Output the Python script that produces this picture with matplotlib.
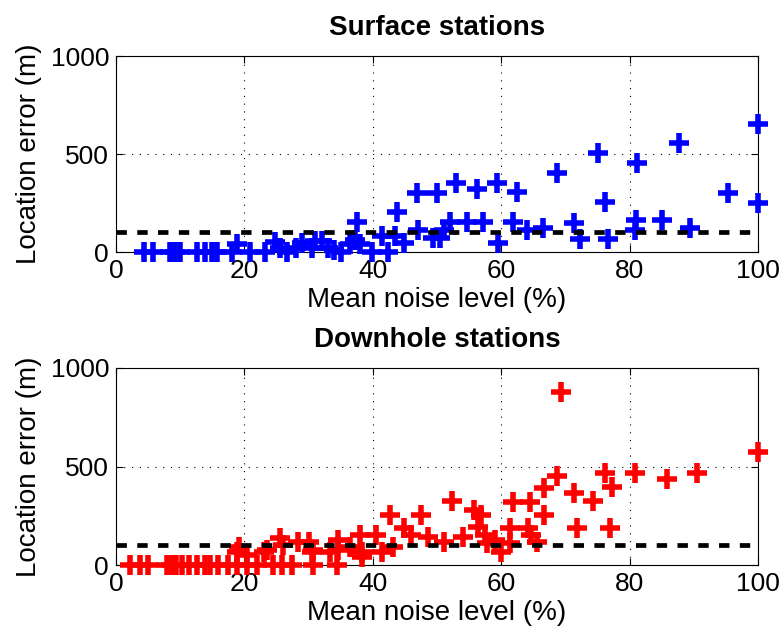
import numpy as np
import matplotlib.pyplot as plt

plt.rcParams['font.family'] = ['Liberation Sans', 'DejaVu Sans']

# -----------------------------
#  Data
# -----------------------------
surf_noise = [4.3, 5.8, 8.4, 9.2, 10, 12.6, 13.9, 14.9, 15.7, 18, 18.8, 20.9, 23.2,
              24.8, 25.5, 26.6, 28.1, 29, 30.5, 31, 32, 33, 34, 35, 36.5, 37.5, 37.2,
              38, 39.8, 41.4, 42.4, 43.5, 43.7, 44.8, 47, 46.8, 49.4, 50, 50.5, 51,
              52, 53, 54.6, 56.2, 57.2, 59.3, 59.5, 61.9, 62.4, 64, 66.5, 68.7, 71.4,
              72.3, 75, 76.2, 76.6, 80.9, 81, 81.2, 85.1, 87.6, 89.4, 95.3, 100, 100]
surf_err = [0, 0, 0, 0, 0, 0, 0, 0, 0, 0, 40, 0, 0,
            50, 20, 0, 20, 45, 20, 55, 55, 20, 10, 0, 40, 155, 60,
            40, 0, 80, 0, 80, 206, 44, 112, 299, 70, 299, 70, 112,
            155, 350, 155, 320, 155, 350, 44, 155, 308, 112, 125, 405, 146,
            65, 503, 257, 65, 112, 163, 452, 163, 555, 121, 299, 653, 252]

down_noise = [2.2, 3.7, 5, 7.9, 8.7, 9.4, 10.2, 11.3, 12.6, 13.9, 14.6, 15.9, 17.5,
              18.8, 20.4, 21.9, 24.5, 25.8, 27.4, 30.7, 34.4,
              18.8, 19.2, 20.4, 23, 23.5, 25.5, 26, 28.4, 30, 30.5, 30.7, 33.3,
              34.6, 34.6, 36.4, 38, 38.3, 38.3, 40.5, 41.4, 42.7, 43.2, 44.9, 46,
              47.5, 48.6, 51.1, 52.3, 54, 55.7, 56.4, 56.8, 57.5, 57.8, 59, 60,
              61.4, 61.4, 61.9, 64.1, 64.4, 64.7, 65.5, 66.7, 66.7, 68.6, 69.3,
              71.4, 71.8, 74.3, 76.2, 77, 77.2, 80.9, 85.8, 90.5, 100]
down_err = [0, 0, 0, 0, 0, 0, 0, 0, 0, 0, 0, 0, 0,
            0, 0, 0, 0, 0, 0, 0, 0,
            68, 93, 50, 68, 76, 135, 100, 118, 118, 68, 76, 68,
            127, 76, 93, 152, 68, 42, 152, 68, 254, 93, 187, 152,
            254, 144, 118, 325, 144, 280, 192, 254, 152, 110, 127, 68,
            110, 187, 322, 187, 322, 152, 119, 254, 393, 452, 878,
            364, 187, 325, 466, 187, 395, 466, 436, 466, 573]

threshold = 100
titles = ["Surface stations", "Downhole stations"]

# -----------------------------
#  Figure
# -----------------------------
fig = plt.figure(figsize=(7.84, 6.3), dpi=100)
ax1 = fig.add_axes([0.148, 0.600, 0.819, 0.311])
ax2 = fig.add_axes([0.148, 0.103, 0.819, 0.313])

for ax, x, y, col, title in [(ax1, surf_noise, surf_err, "blue", titles[0]),
                             (ax2, down_noise, down_err, "red", titles[1])]:
    ax.plot(x, y, "+", color=col, markersize=15, markeredgewidth=4, clip_on=False, zorder=3)
    ax.axhline(threshold, color="black", linestyle=(0, (2.2, 2.2)), linewidth=3.4, zorder=4)
    ax.set_xlim(0, 100)
    ax.set_ylim(0, 1000)
    ax.set_xticks([0, 20, 40, 60, 80, 100])
    ax.set_yticks([0, 500, 1000])
    ax.grid(True, linestyle=(0, (1, 6)), color="black", linewidth=0.8)
    ax.tick_params(direction="in", top=True, right=True, labelsize=19, length=5, pad=5)
    ax.set_xlabel("Mean noise level (%)", fontsize=20, labelpad=3)
    ax.set_ylabel("Location error (m)", fontsize=20, labelpad=6)
    ax.set_title(title, fontsize=20, fontweight="bold", pad=15)

fig.savefig("out.png", dpi=100)
